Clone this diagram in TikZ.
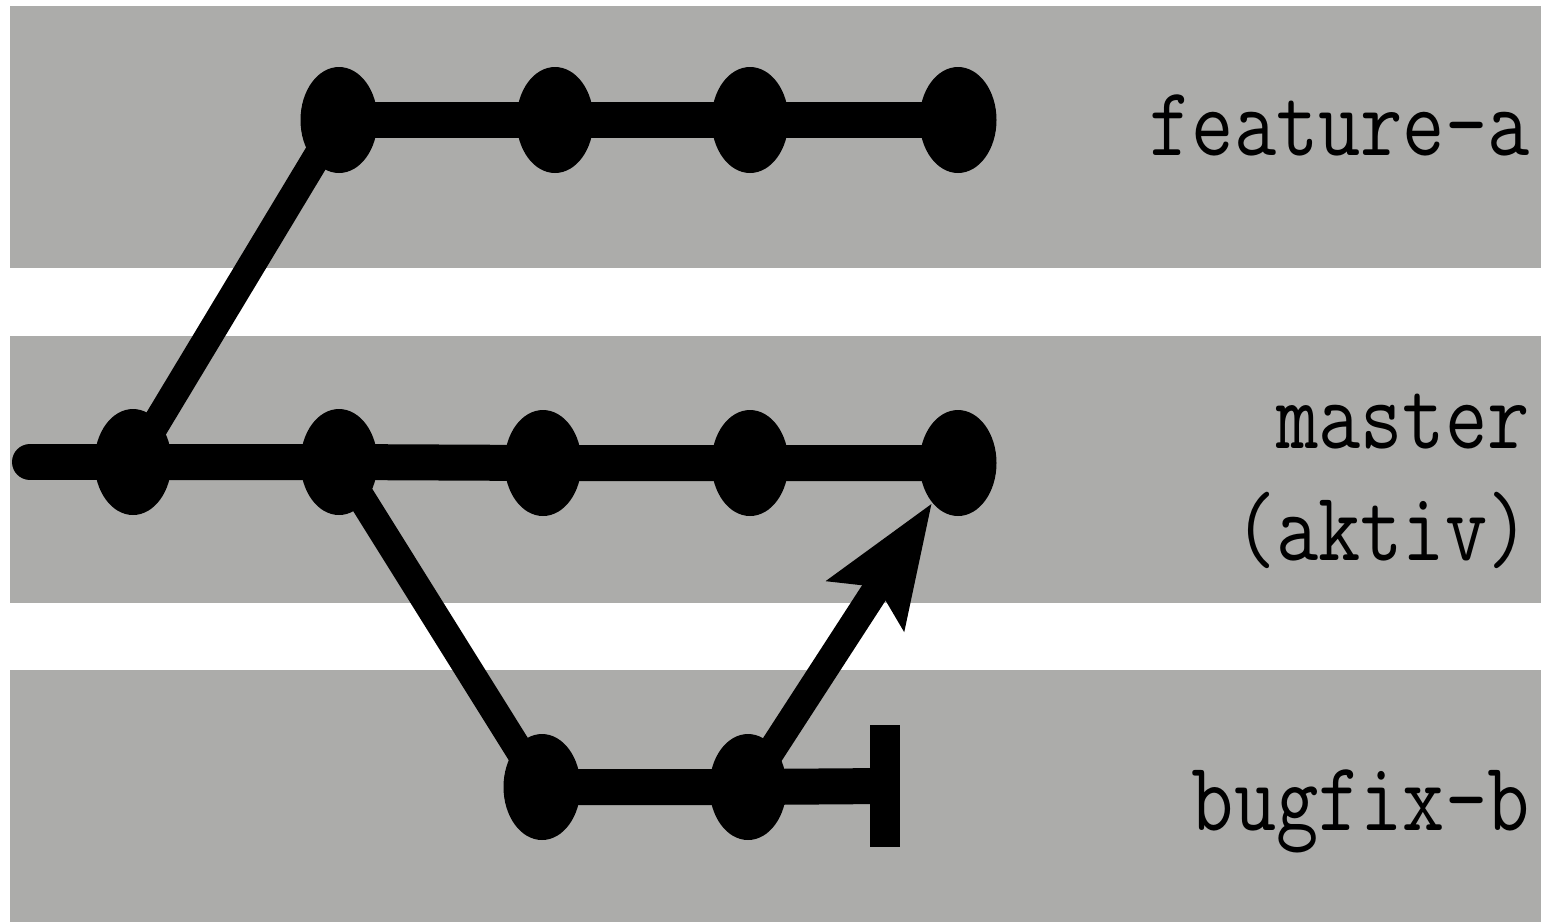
\documentclass[tikz,border=0pt]{standalone}
\usepackage{fontspec}
\usetikzlibrary{arrows.meta,shapes.geometric}
\definecolor{bggray}{RGB}{172,172,170}
\begin{document}
\begin{tikzpicture}[x=0.5pt,y=-0.5pt,
  commit/.style={ellipse,fill=black,inner sep=0pt,minimum width=38.5pt,minimum height=53pt},
  branchline/.style={line width=18pt,black},
  forkline/.style={line width=14pt,black},
  brlabel/.style={anchor=base east,inner sep=0pt,font=\ttfamily\fontsize{41}{44}\selectfont},
]
\useasboundingbox (0,0) rectangle (1541,922);
\fill[white] (0,0) rectangle (1541,922);
\fill[bggray] (10,6) rectangle (1541,922);
\fill[white] (10,268) rectangle (1541,336);
\fill[white] (10,603) rectangle (1541,670);

% feature-a
\node[commit] (f1) at (339,120) {};
\node[commit] (f2) at (555,120) {};
\node[commit] (f3) at (750,120) {};
\node[commit] (f4) at (958,120) {};
% master
\coordinate (m0) at (30,462);
\node[commit] (m1) at (133,462) {};
\node[commit] (m2) at (339,462) {};
\node[commit] (m3) at (543,463) {};
\node[commit] (m4) at (750,463) {};
\node[commit] (m5) at (958,463) {};
% bugfix-b
\node[commit] (b1) at (542,787) {};
\node[commit] (b2) at (748,787) {};
\node[fill=black,inner sep=0pt,minimum width=15pt,minimum height=61pt] (bar) at (885,786) {};

\draw[branchline] (f1.center) -- (f2.center) -- (f3.center) -- (f4.center);
\draw[branchline,line cap=round] (m0) -- (m1.center);
\draw[branchline] (m1.center) -- (m2.center) -- (m3.center) -- (m4.center) -- (m5.center);
\draw[branchline] (b1.center) -- (b2.center) -- (bar.center);
\draw[forkline] (m1.center) -- (f1.center);
\draw[forkline] (m2.center) -- (b1.center);
\draw[forkline,-{Stealth[length=60pt,width=44pt,inset=10pt]}] (b2.center) -- (m5);

\node[brlabel] (lf) at (1530,155) {\scalebox{1}[1.2]{feature-a}};
\node[brlabel] (lm) at (1530,448) {\scalebox{1}[1.2]{master}};
\node[brlabel] (la) at (1530,560) {\scalebox{1}[1.2]{(aktiv)}};
\node[brlabel] (lb) at (1530,830) {\scalebox{1}[1.2]{bugfix-b}};
\end{tikzpicture}
\end{document}
